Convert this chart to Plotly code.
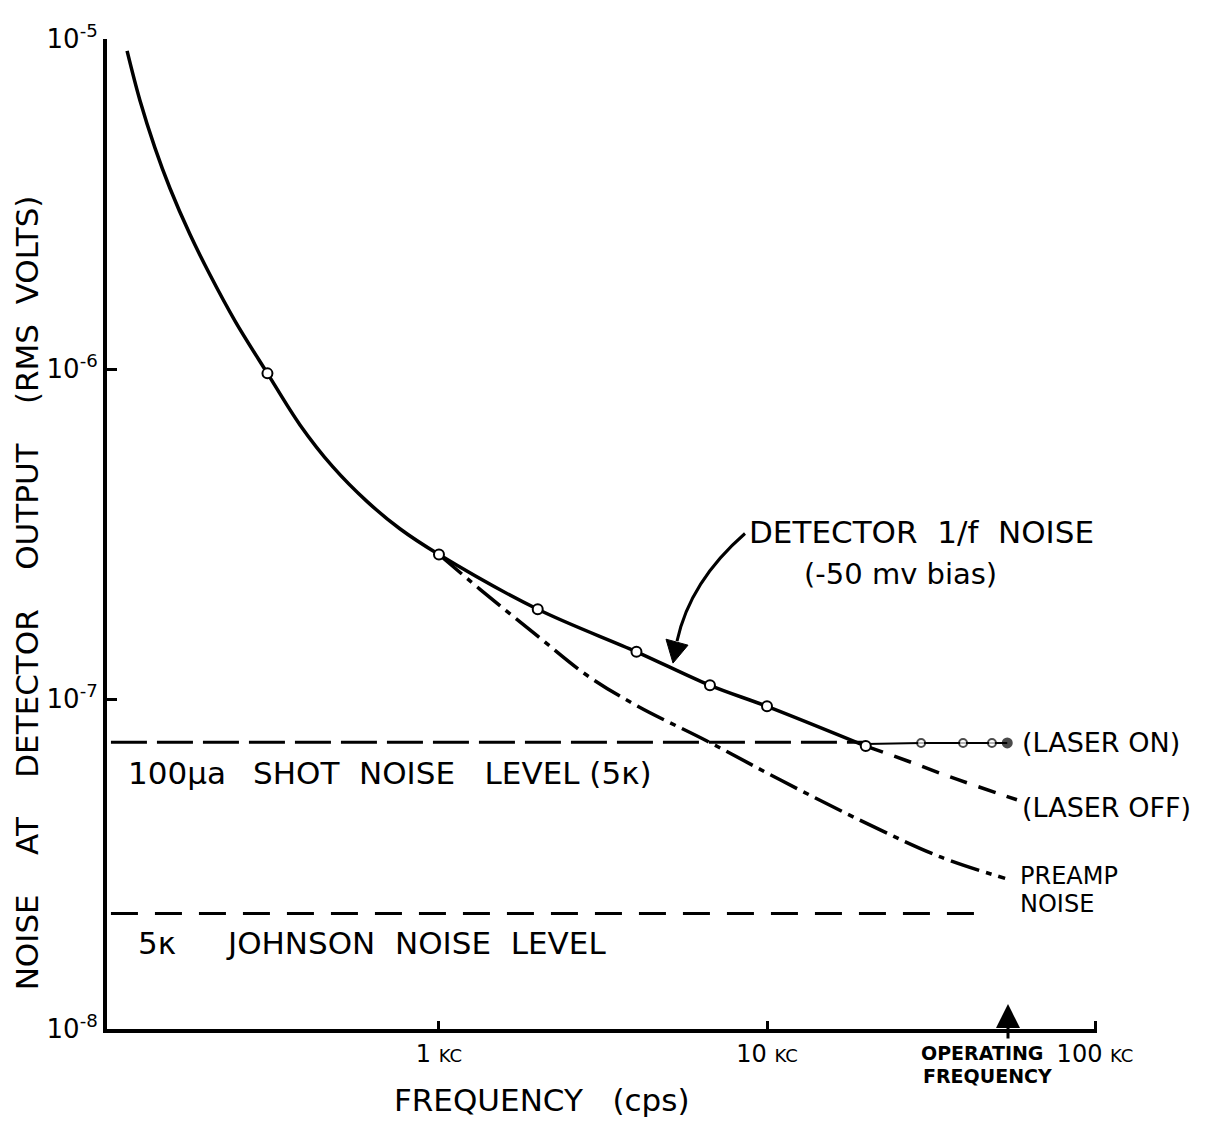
import plotly.graph_objects as go

# ---------------- data ----------------
det_freq = [112, 122.6, 136.2, 151.3, 174.1, 200.4, 238.8, 300, 377, 475, 603,
            760, 1000, 2000, 4000, 6700, 10000, 20000]
det_volts = [9.2e-6, 6.51e-6, 4.68e-6, 3.53e-6, 2.56e-6, 1.93e-6, 1.40e-6, 9.7e-7,
             6.77e-7, 5.05e-7, 3.97e-7, 3.28e-7, 2.74e-7, 1.87e-7, 1.39e-7,
             1.10e-7, 9.5e-8, 7.2e-8]

meas_freq = [300, 1000, 2000, 4000, 6700, 10000, 20000]
meas_volts = [9.7e-7, 2.74e-7, 1.87e-7, 1.39e-7, 1.10e-7, 9.5e-8, 7.2e-8]

laser_on_freq = [20000, 29500, 39600, 48500, 54000]
laser_on_volts = [7.3e-8, 7.36e-8, 7.36e-8, 7.36e-8, 7.36e-8]

laser_off_freq = [20000, 26700, 36100, 57800]
laser_off_volts = [7.2e-8, 6.5e-8, 5.81e-8, 4.95e-8]

preamp_freq = [1000, 1334, 2000, 2825, 4020, 6560, 10960, 20200, 33600, 53200]
preamp_volts = [2.74e-7, 2.15e-7, 1.55e-7, 1.18e-7, 9.53e-8, 7.46e-8,
                5.69e-8, 4.19e-8, 3.33e-8, 2.86e-8]

shot_freq = [100, 20000]
shot_level = 7.4e-8
johnson_freq = [100, 45000]
johnson_level = 2.24e-8

x_tickvals = [1000, 10000, 100000]
x_ticktext = ["1 <span style='font-size:18px'>KC</span>",
              "10 <span style='font-size:18px'>KC</span>",
              "100 <span style='font-size:18px'>KC</span>"]
y_tickvals = [1e-8, 1e-7, 1e-6, 1e-5]
y_ticktext = ["10<sup>-8</sup>", "10<sup>-7</sup>", "10<sup>-6</sup>", "10<sup>-5</sup>"]

# ---------------- layout geometry helpers ----------------
OFF = 8                      # page body margin
W, H = 1198, 1114
L, R, T, B = 99, 109, 28, 93
PW, PH = W - L - R, H - T - B
FONT = "DejaVu Sans"


def px(x):
    """screen pixel x -> paper coordinate"""
    return (x - OFF - L) / PW


def py(y):
    """screen pixel y -> paper coordinate"""
    return (OFF + H - B - y) / PH


fig = go.Figure()

fig.add_trace(go.Scatter(x=shot_freq, y=[shot_level] * len(shot_freq), mode="lines",
                         line=dict(color="black", width=3, dash="36px,10px"),
                         showlegend=False, hoverinfo="skip"))
fig.add_trace(go.Scatter(x=johnson_freq, y=[johnson_level] * len(johnson_freq), mode="lines",
                         line=dict(color="black", width=3, dash="27px,17px"),
                         showlegend=False, hoverinfo="skip"))
fig.add_trace(go.Scatter(x=preamp_freq, y=preamp_volts, mode="lines",
                         line=dict(color="black", width=3.5, shape="spline",
                                   dash="30px,7px,6px,7px"),
                         showlegend=False))
fig.add_trace(go.Scatter(x=laser_off_freq, y=laser_off_volts, mode="lines",
                         line=dict(color="black", width=3.5, shape="spline",
                                   dash="18px,12px"),
                         showlegend=False))
fig.add_trace(go.Scatter(x=det_freq, y=det_volts, mode="lines",
                         line=dict(color="black", width=3.5, shape="spline"),
                         showlegend=False))
fig.add_trace(go.Scatter(x=laser_on_freq, y=laser_on_volts, mode="lines+markers",
                         line=dict(color="black", width=2),
                         marker=dict(symbol="circle", size=[0, 8, 8, 8, 9],
                                     color=["white", "white", "white", "white", "black"],
                                     line=dict(color="black", width=2)),
                         showlegend=False))
fig.add_trace(go.Scatter(x=meas_freq, y=meas_volts, mode="markers",
                         marker=dict(symbol="circle", size=10, color="white",
                                     line=dict(color="black", width=2)),
                         showlegend=False))

axis_common = dict(type="log", showgrid=False, zeroline=False, showline=True,
                   linecolor="black", linewidth=4, ticks="inside", tickcolor="black",
                   tickwidth=3, mirror=False)

fig.update_xaxes(**axis_common, range=[1.988, 5.006], tickvals=x_tickvals,
                 ticktext=x_ticktext, ticklen=8,
                 tickfont=dict(family=FONT, size=24, color="black"))
fig.update_yaxes(**axis_common, range=[-8, -5], tickvals=y_tickvals,
                 ticktext=y_ticktext, ticklen=10,
                 tickfont=dict(family=FONT, size=26, color="black"))

ann = []


def text(t, x, y, size, xanchor="center", angle=0):
    ann.append(dict(text=t, x=px(x), y=py(y), xref="paper", yref="paper",
                    showarrow=False, xanchor=xanchor, yanchor="middle",
                    textangle=angle, borderpad=0,
                    font=dict(family=FONT, size=size, color="black")))


NB = "\u00a0"
text("DETECTOR" + NB * 2 + "1/f" + NB * 2 + "NOISE", 921, 530, 31)
text("(-50 mv bias)", 900, 573, 29)
text("(LASER" + NB + "ON)", 1021, 742, 27, "left")
text("(LASER" + NB + "OFF)", 1021, 807, 27, "left")
text("PREAMP", 1019, 876, 24, "left")
text("NOISE", 1019, 904, 24, "left")
text("100μa", 127, 772, 31, "left")
text("SHOT" + NB * 2 + "NOISE" + NB * 3 + "LEVEL (5κ)", 252, 772, 31, "left")
text("5κ", 137, 943, 31, "left")
text("JOHNSON" + NB * 2 + "NOISE" + NB * 2 + "LEVEL", 225, 943, 31, "left")
text("<b>OPERATING</b>", 982, 1053, 19)
text("<b>FREQUENCY</b>", 987, 1076, 19)
text("FREQUENCY" + NB * 3 + "(cps)", 541, 1100, 31)
text("NOISE" + NB * 4 + "AT" + NB * 4 + "DETECTOR" + NB * 4 + "OUTPUT" + NB * 4 + "(RMS" + NB * 2 + "VOLTS)",
     27, 592, 31, angle=-90)

# operating frequency arrow
ann.append(dict(text="", x=px(1008), y=py(1004), xref="paper", yref="paper",
                showarrow=True, ax=0, ay=36, arrowhead=2, arrowsize=1.6,
                arrowwidth=3, arrowcolor="black"))

fig.update_layout(annotations=ann)

# curved pointer to detector curve
fig.add_shape(type="path", xref="paper", yref="paper",
              path=f"M {px(745)},{py(532)} Q {px(690)},{py(580)} {px(677)},{py(640)}",
              line=dict(color="black", width=3))
fig.add_shape(type="path", xref="paper", yref="paper",
              path=f"M {px(666)},{py(638)} L {px(688)},{py(644)} L {px(673)},{py(662)} Z",
              fillcolor="black", line=dict(color="black", width=1))

fig.update_layout(width=W, height=H, margin=dict(l=L, r=R, t=T, b=B),
                  paper_bgcolor="white", plot_bgcolor="white",
                  font=dict(family=FONT, color="black"))

fig.write_html("out.html")
